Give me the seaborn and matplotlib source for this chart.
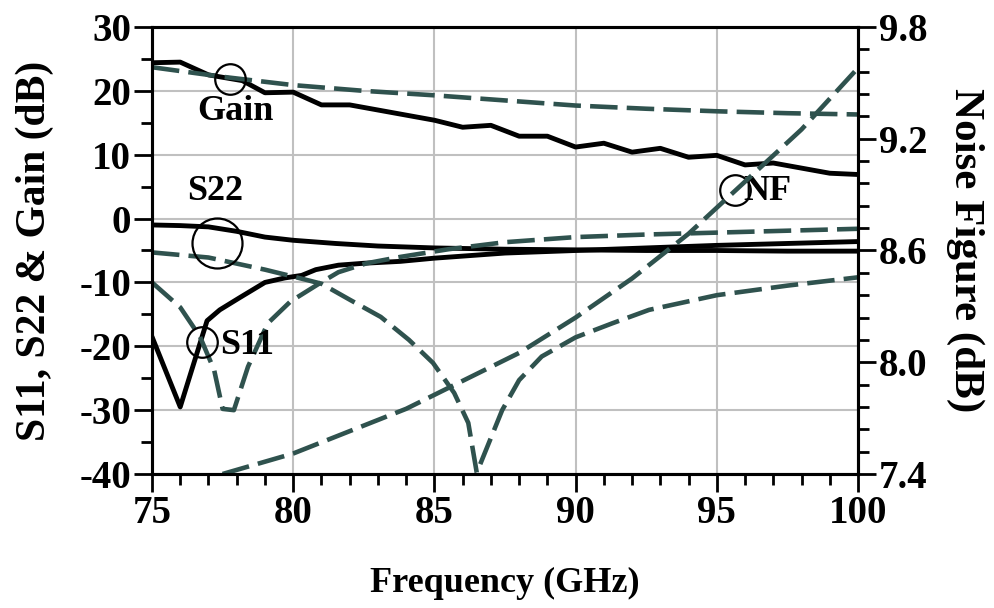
import numpy as np
import pandas as pd
import matplotlib
matplotlib.use("Agg")
import matplotlib.pyplot as plt
from matplotlib.ticker import MultipleLocator, FixedLocator, FormatStrFormatter
import seaborn as sns

gain_meas_f = [75, 76, 77, 78.2, 79, 80, 81, 82, 83, 84, 85, 86, 87, 88, 89,
               90, 91, 92, 93, 94, 95, 96, 97, 98, 99, 100]
gain_meas = [24.4, 24.5, 22.5, 21.6, 19.7, 19.8, 17.8, 17.8, 17.0, 16.2, 15.4, 14.3, 14.6, 12.9, 12.9,
             11.2, 11.8, 10.4, 11.0, 9.6, 9.9, 8.4, 8.7, 7.9, 7.1, 6.9]

s22_meas_f = [75, 76, 77, 78, 79, 80, 81.5, 83, 85, 87.5, 90, 92.5, 95, 97.5, 100]
s22_meas = [-1.0, -1.1, -1.3, -2.0, -2.9, -3.4, -3.9, -4.3, -4.6, -4.8, -4.9, -5.0, -5.0, -5.1, -5.1]

s11_meas_f = [75, 76, 76.95, 77.4, 78.1, 79, 79.7, 80.3, 80.8, 81.6, 82.5, 83.8, 85,
              87.5, 90, 92.5, 95, 97.5, 100]
s11_meas = [-18.5, -29.5, -16.0, -14.3, -12.4, -10.0, -9.3, -8.9, -8.0, -7.3, -7.0, -6.7, -6.2,
            -5.4, -5.0, -4.6, -4.2, -3.9, -3.6]

gain_sim_f = [75, 77.5, 80, 82.5, 85, 87.5, 90, 92.5, 95, 97.5, 100]
gain_sim = [23.7, 22.2, 20.9, 20.0, 19.3, 18.5, 17.7, 17.2, 16.8, 16.5, 16.3]

s11_sim_f = [75, 76, 76.7, 77.2, 77.5, 77.9, 78.4, 79.1, 79.9, 80.95, 81.6, 82.6, 83.8,
             85.5, 87.5, 90, 92.5, 95, 97.5, 100]
s11_sim = [-10, -13.9, -18.5, -23.7, -29.8, -30, -23.2, -16.4, -13.0, -10.1, -8.4, -7.0, -6.0,
           -4.8, -3.7, -2.9, -2.5, -2.2, -1.9, -1.6]

s22_sim_f = [75, 77, 79, 80.2, 81, 82, 83.1, 84.1, 84.95, 85.7, 86.2, 86.5, 87.4, 88, 88.8,
             90, 91.3, 92.6, 95, 97.5, 100]
s22_sim = [-5.3, -6.1, -8.0, -9.3, -10.2, -12.7, -15.4, -19.0, -22.6, -27.3, -32.0, -39.8, -30.0, -25.3, -21.6,
           -18.6, -16.4, -14.3, -12.0, -10.5, -9.2]

nf_f = [77.5, 80, 82, 84, 86, 88, 90, 92, 94, 96, 98, 100]
nf = [7.4, 7.51, 7.63, 7.75, 7.90, 8.05, 8.24, 8.45, 8.69, 8.97, 9.25, 9.58]
nf_ticks = [7.4, 8.0, 8.6, 9.2, 9.8]

# curve labels and the little circles pointing at them
label_text = ["Gain", "S22", "S11", "NF"]
label_f = [77.94, 77.23, 78.36, 96.78]
label_v = [16.7, 4.2, -19.8, 4.2]
circle_f = [77.76, 77.3, 76.77, 95.64]
circle_v = [21.9, -3.8, -19.3, 4.5]
circle_size = [22, 36, 22, 22]

sns.set_style("white")
plt.rcParams['font.family'] = ['Liberation Serif', 'DejaVu Serif']
plt.rcParams['font.weight'] = 'bold'
plt.rcParams['axes.unicode_minus'] = False
plt.rcParams['text.color'] = 'black'
plt.rcParams['xtick.color'] = 'black'
plt.rcParams['ytick.color'] = 'black'
plt.rcParams['axes.labelcolor'] = 'black'

dash_col = "#2f524e"
dash = (6, 2)

fig = plt.figure(figsize=(9.94, 6.08), dpi=100)
ax = fig.add_axes([0.1529, 0.2204, 0.8632 - 0.1529, 0.9556 - 0.2204])

for f, v in [(gain_meas_f, gain_meas), (s22_meas_f, s22_meas), (s11_meas_f, s11_meas)]:
    sns.lineplot(x=f, y=v, ax=ax, color="black", lw=3.5, sort=False, estimator=None)

for f, v in [(gain_sim_f, gain_sim), (s11_sim_f, s11_sim), (s22_sim_f, s22_sim)]:
    sns.lineplot(x=f, y=v, ax=ax, color=dash_col, lw=3.3, sort=False, estimator=None,
                 linestyle=(0, dash))

ax.set_xlim(75, 100)
ax.set_ylim(-40, 30)
ax.xaxis.set_major_locator(MultipleLocator(5))
ax.xaxis.set_minor_locator(MultipleLocator(1))
ax.yaxis.set_major_locator(MultipleLocator(10))
ax.yaxis.set_minor_locator(MultipleLocator(5))
ax.grid(True, which="major", color="#c0c0c0", lw=1.5)
ax.set_axisbelow(True)

for t, f, v in zip(label_text, label_f, label_v):
    ax.text(f, v, t, fontsize=26, fontweight="bold", ha="center", va="center")
for f, v, s in zip(circle_f, circle_v, circle_size):
    ax.plot(f, v, "o", ms=s, mfc="none", mec="black", mew=1.6)

ax2 = ax.twinx()
sns.lineplot(x=nf_f, y=nf, ax=ax2, color=dash_col, lw=3.3, sort=False, estimator=None,
             linestyle=(0, dash))
ax2.set_ylim(7.4, 9.8)
ax2.yaxis.set_major_locator(FixedLocator(nf_ticks))
ax2.yaxis.set_minor_locator(FixedLocator(np.arange(7.4, 9.81, 0.12)))
ax2.yaxis.set_major_formatter(FormatStrFormatter("%.1f"))
ax2.grid(False)

for a in (ax, ax2):
    for s in a.spines.values():
        s.set_linewidth(2.2)
        s.set_color("black")
    a.tick_params(which="major", direction="out", length=13, width=2, labelsize=28, pad=2)
    a.tick_params(which="minor", direction="out", length=8, width=2)
ax.tick_params(axis="x", which="both", bottom=True)
ax.tick_params(axis="y", which="both", left=True)
ax2.tick_params(axis="y", which="both", right=True)

ax.set_xlabel("Frequency (GHz)", fontsize=26, fontweight="bold")
ax.xaxis.set_label_coords(0.5, -0.244)
ax.xaxis.label.set_va("center")
ax.set_ylabel("S11, S22 & Gain (dB)", fontsize=30, fontweight="bold")
ax.yaxis.set_label_coords(-0.166, 0.5)
ax.yaxis.label.set_va("center")
ax2.set_ylabel("Noise Figure (dB)", fontsize=31, fontweight="bold", rotation=270)
ax2.yaxis.set_label_coords(1.152, 0.5)
ax2.yaxis.label.set_va("center")

fig.savefig("out.png", dpi=100)
